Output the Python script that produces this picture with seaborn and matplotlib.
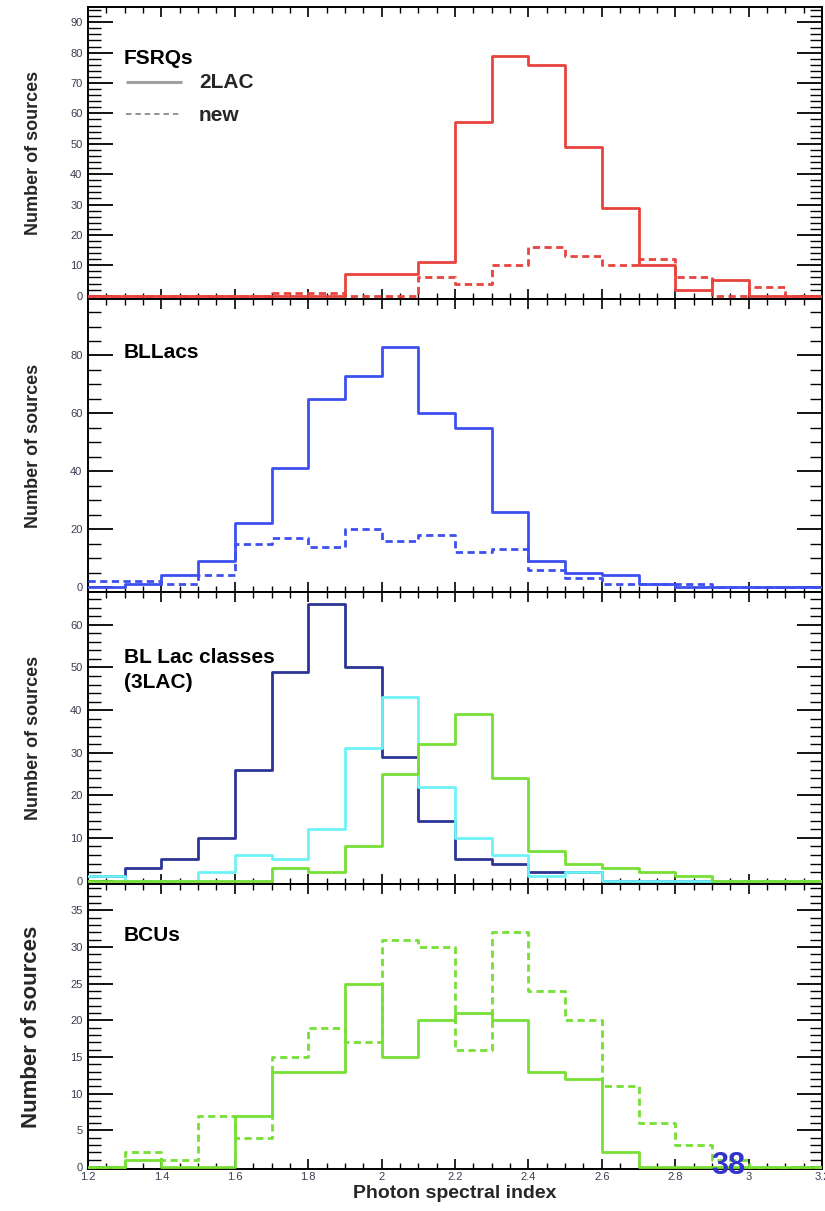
import numpy as np
import pandas as pd
import matplotlib
matplotlib.use("Agg")
import matplotlib.pyplot as plt
from matplotlib.ticker import MultipleLocator, FixedLocator
import seaborn as sns

# ---------------- data (counts per 0.1-wide bin, 1.2 .. 3.2) ----------------
bin_lo = 1.2
bin_hi = 3.2
bin_w = 0.1
n_bins = 20

fsrq_2lac = [0, 0, 0, 0, 0, 0, 0, 7, 7, 11, 57, 79, 76, 49, 29, 10, 2, 5, 0, 0]
fsrq_new = [0, 0, 0, 0, 0, 1, 1, 0, 0, 6, 4, 10, 16, 13, 10, 12, 6, 0, 3, 0]

bll_2lac = [0, 1, 4, 9, 22, 41, 65, 73, 83, 60, 55, 26, 9, 5, 4, 1, 0, 0, 0, 0]
bll_new = [2, 2, 1, 4, 15, 17, 14, 20, 16, 18, 12, 13, 6, 3, 1, 1, 1, 0, 0, 0]

lsp = [1, 3, 5, 10, 26, 49, 65, 50, 29, 14, 5, 4, 2, 2, 0, 0, 0, 0, 0, 0]
isp = [1, 0, 0, 2, 6, 5, 12, 31, 43, 22, 10, 6, 1, 2, 0, 0, 0, 0, 0, 0]
hsp = [0, 0, 0, 0, 0, 3, 2, 8, 25, 32, 39, 24, 7, 4, 3, 2, 1, 0, 0, 0]

bcu_2lac = [0, 1, 0, 0, 7, 13, 13, 25, 15, 20, 21, 20, 13, 12, 2, 0, 0, 0, 0, 0]
bcu_new = [0, 2, 1, 7, 4, 15, 19, 17, 31, 30, 16, 32, 24, 20, 11, 6, 3, 1, 0, 0]

xtick_vals = [1.2, 1.4, 1.6, 1.8, 2.0, 2.2, 2.4, 2.6, 2.8, 3.0, 3.2]
xtick_labels = ["1.2", "1.4", "1.6", "1.8", "2", "2.2", "2.4", "2.6", "2.8", "3", "3.2"]

panel_titles = ["FSRQs", "BLLacs", "BL Lac classes\n(3LAC)", "BCUs"]
legend_labels = ["2LAC", "new"]
page_number = "38"

# ---------------- styling ----------------
RED = "#e8433d"
BLUE = "#3d4ff0"
NAVY = "#2d3496"
CYAN = "#6cf3f8"
GREEN = "#76e035"
TICKC = "#3b3b55"

centers = np.round(bin_lo + bin_w * (np.arange(n_bins) + 0.5), 3)

sns.set_theme(style="white")
plt.rcParams["font.family"] = ["Liberation Sans", "DejaVu Sans"]

W, H = 825, 1211
fig = plt.figure(figsize=(W / 100, H / 100), dpi=100)

left = 88 / W
width = (822 - 88) / W
bounds_px = [7, 299, 592, 884, 1169]

panels = [
    dict(series=[(fsrq_2lac, RED, "-"), (fsrq_new, RED, "--")],
         ylim=(-1.1, 95), major=10, minor=2),
    dict(series=[(bll_2lac, BLUE, "-"), (bll_new, BLUE, "--")],
         ylim=(-1.7, 99.5), major=20, minor=5),
    dict(series=[(lsp, NAVY, "-"), (isp, CYAN, "-"), (hsp, GREEN, "-")],
         ylim=(-0.8, 67.7), major=10, minor=2),
    dict(series=[(bcu_2lac, GREEN, "-"), (bcu_new, GREEN, "--")],
         ylim=(-0.25, 38.6), major=5, minor=1),
]

axes = []
for i, p in enumerate(panels):
    top_px, bot_px = bounds_px[i], bounds_px[i + 1]
    ax = fig.add_axes([left, 1 - bot_px / H, width, (bot_px - top_px) / H])
    axes.append(ax)
    for vals, col, ls in p["series"]:
        df = pd.DataFrame({"x": centers, "n": vals})
        sns.histplot(data=df, x="x", weights="n", binwidth=bin_w,
                     binrange=(bin_lo, bin_hi), element="step",
                     fill=False, color=col, linewidth=2.0, linestyle=ls,
                     ax=ax, zorder=3)
    ax.set_xlim(1.2, 3.2)
    ax.set_ylim(*p["ylim"])
    ax.set_xlabel("")
    ax.set_ylabel("Number of sources", fontsize=16 if i == 3 else 13,
                  fontweight="bold", labelpad=0)
    ax.yaxis.set_label_coords(-46 / 734, 0.5)
    ax.yaxis.set_major_locator(MultipleLocator(p["major"]))
    ax.yaxis.set_minor_locator(MultipleLocator(p["minor"]))
    ax.xaxis.set_major_locator(FixedLocator(xtick_vals))
    ax.xaxis.set_minor_locator(MultipleLocator(0.05))
    ax.tick_params(axis="both", which="both", direction="in",
                   top=True, right=True, bottom=True, left=True,
                   colors="black", labelcolor=TICKC, labelsize=8)
    ax.tick_params(axis="y", which="major", length=18, width=1.3, pad=4)
    ax.tick_params(axis="y", which="minor", length=9, width=1.0)
    ax.tick_params(axis="x", which="major", length=7, width=1.2, pad=2)
    ax.tick_params(axis="x", which="minor", length=4, width=1.0)
    for s in ax.spines.values():
        s.set_color("black")
        s.set_linewidth(1.4)
        s.set_visible(True)
    ax.set_facecolor("white")
    yt = [v for v in ax.get_yticks() if 0 <= v <= p["ylim"][1]]
    ax.set_yticks(yt)
    ax.set_yticklabels([f"{int(v)}" for v in yt])
    if i < 3:
        ax.tick_params(axis="x", labelbottom=False)
    else:
        ax.set_xticks(xtick_vals)
        ax.set_xticklabels(xtick_labels)
        ax.set_xlabel("Photon spectral index", fontsize=14, fontweight="bold",
                      labelpad=2)
    ax.grid(False)

# dashed style for "new" series
for ax in axes:
    for ln in ax.lines:
        if ln.get_linestyle() == "--":
            ln.set_dashes((2.6, 1.6))

# panel titles
title_pos = [0.825, 0.819, 0.733, 0.821]
for ax, t, yp in zip(axes, panel_titles, title_pos):
    ax.text(0.049, yp, t, transform=ax.transAxes, fontsize=15, fontweight="bold",
            va="center", ha="left", color="black", linespacing=1.35)

# legend (panel 1)
a0 = axes[0]
a0.plot([0.052, 0.128], [0.742, 0.742], transform=a0.transAxes, color="#a0a0a0",
        lw=2.2, solid_capstyle="butt")
a0.plot([0.052, 0.128], [0.633, 0.633], transform=a0.transAxes, color="#8a8a8a",
        lw=1.3, dashes=(3, 2.2))
a0.text(0.151, 0.740, legend_labels[0], transform=a0.transAxes, fontsize=15,
        fontweight="bold", va="center", ha="left")
a0.text(0.151, 0.630, legend_labels[1], transform=a0.transAxes, fontsize=15,
        fontweight="bold", va="center", ha="left")

# page number
fig.text(728 / W, 1 - 1166 / H, page_number, fontsize=22, fontweight="bold",
         color="#3232cc", ha="center", va="center")

fig.savefig("out.png", dpi=100, facecolor="white")
